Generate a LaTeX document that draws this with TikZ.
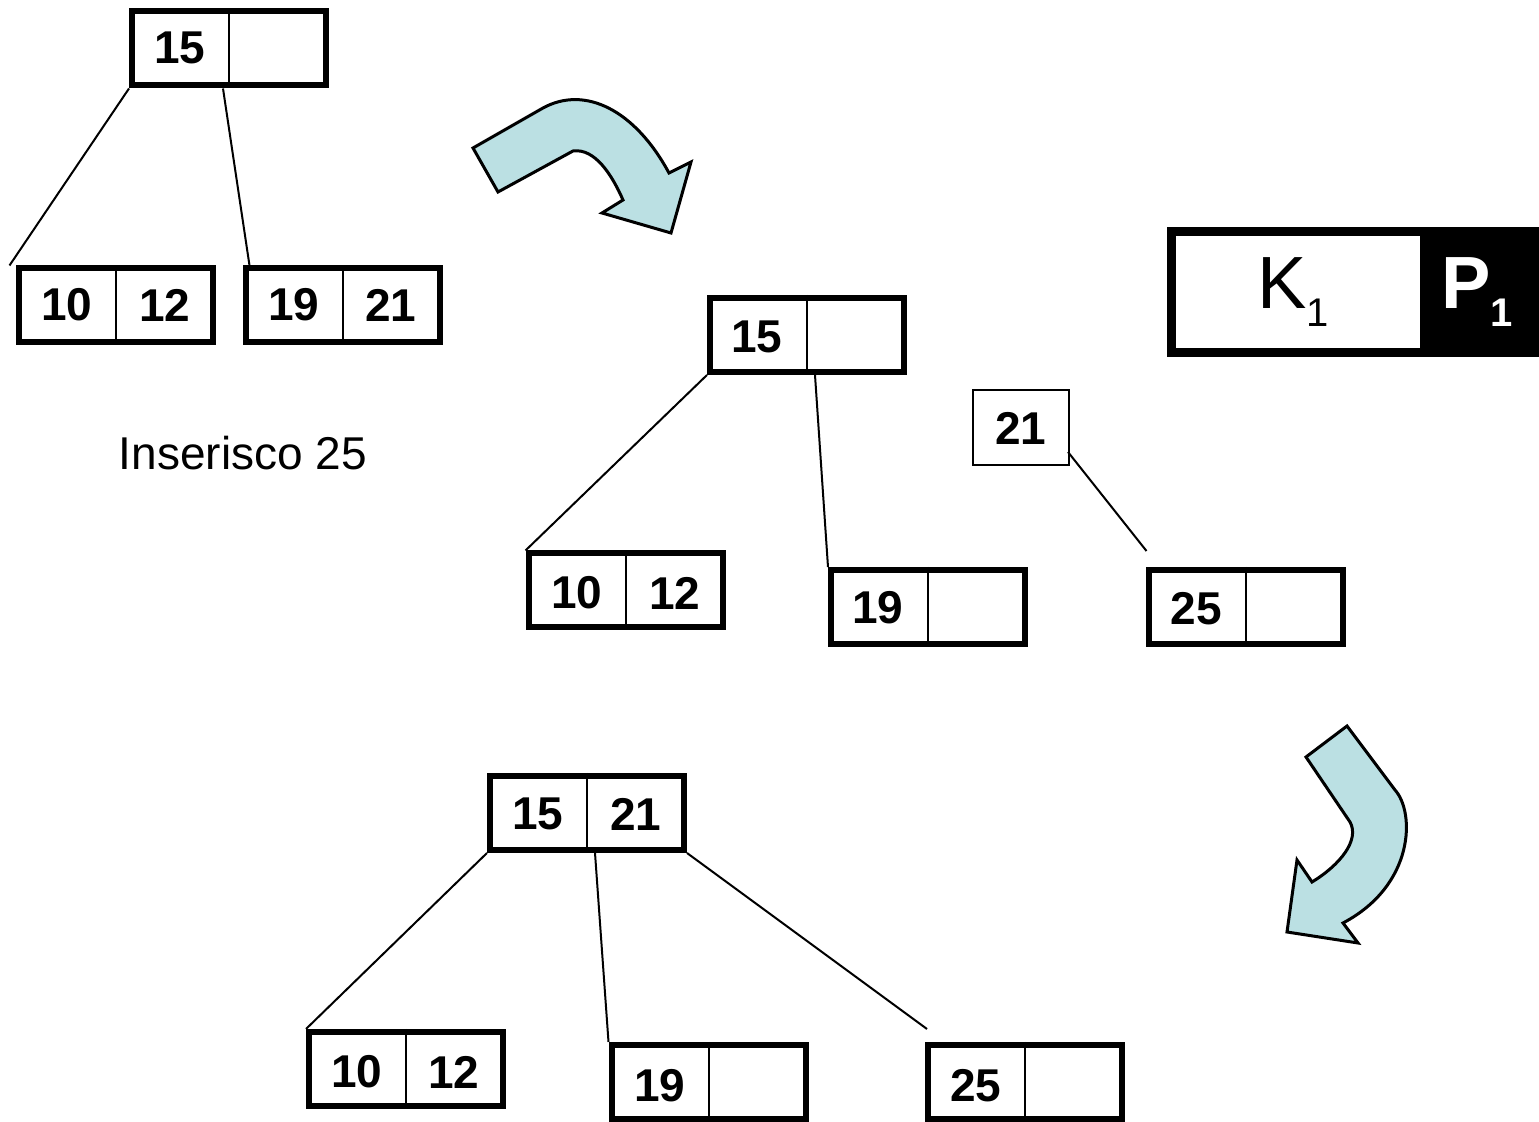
\documentclass[tikz,border=0pt]{standalone}
\usepackage{fontspec}
\setmainfont{Liberation Sans}
\usetikzlibrary{positioning, calc}
\definecolor{arrowblue}{RGB}{187,224,227}

\begin{document}
\begin{tikzpicture}[x=0.5pt, y=-0.5pt,
		keybox/.style={draw, rectangle, line width=3pt, minimum width=97pt, minimum height=37pt, inner sep=0pt},
		key/.style={font=\fontsize{23}{27}\selectfont\bfseries, inner sep=0pt},
		edge/.style={line width=1pt},
		divider/.style={line width=1pt},
		bluearrow/.style={draw, line width=1.5pt, fill=arrowblue, line join=miter}]
		\useasboundingbox (0,0) rectangle (1539,1122);
		
		% first tree: root with a full leaf
		\node (Root A) at (229,48.5) [keybox]{};
		\node (Leaf A1) at (115.5,305.5) [keybox]{};
		\node (Leaf A2) at (342.5,305.5) [keybox]{};
		\draw[divider] (Root A.north) -- (Root A.south);
		\draw[divider] (Leaf A1.north) -- (Leaf A1.south);
		\draw[divider] (Leaf A2.north) -- (Leaf A2.south);
		\node (Key A) at (180,48) [key]{15};
		\node (Key A11) at (67,305) [key]{10};
		\node (Key A12) at (165,305) [key]{12};
		\node (Key A21) at (294,305) [key]{19};
		\node (Key A22) at (391,305) [key]{21};
		\draw[edge] (Root A.south west) -- ($(Leaf A1.north west)+(-6,0)$);
		\draw[edge] ($(Root A.south)+(-6,0)$) -- ($(Leaf A2.north west)+(7,0)$);
		
		\node (Scritto) at (243,453) [font=\fontsize{23}{27}\selectfont]{Inserisco 25};
		
		% split of the leaf
		\node (Root B) at (807,335) [keybox]{};
		\node (Leaf B1) at (625.5,590.5) [keybox]{};
		\node (Leaf B2) at (928,607) [keybox]{};
		\node (Leaf B3) at (1245.5,607) [keybox]{};
		\draw[divider] (Root B.north) -- (Root B.south);
		\draw[divider] (Leaf B1.north) -- (Leaf B1.south);
		\draw[divider] (Leaf B2.north) -- (Leaf B2.south);
		\draw[divider] (Leaf B3.north) -- (Leaf B3.south);
		\node (Key B) at (757,337) [key]{15};
		\node (Key B11) at (577,593) [key]{10};
		\node (Key B12) at (675,593) [key]{12};
		\node (Key B21) at (878,608) [key]{19};
		\node (Key B31) at (1196,609) [key]{25};
		\node (Split Key) at (1021,428) [draw, rectangle, line width=1pt, minimum width=48pt, minimum height=37.5pt, key]{21};
		\draw[edge] (Root B.south west) -- (Leaf B1.north west);
		\draw[edge] ($(Root B.south)+(8,0)$) -- (Leaf B2.north west);
		\draw[edge] ($(Split Key.east)+(-2,24)$) -- ($(Leaf B3.north west)+(1,-16)$);
		
		% final tree
		\node (Root C) at (587,813) [keybox]{};
		\node (Leaf C1) at (406,1069) [keybox]{};
		\node (Leaf C2) at (708.5,1082) [keybox]{};
		\node (Leaf C3) at (1025,1082) [keybox]{};
		\draw[divider] (Root C.north) -- (Root C.south);
		\draw[divider] (Leaf C1.north) -- (Leaf C1.south);
		\draw[divider] (Leaf C2.north) -- (Leaf C2.south);
		\draw[divider] (Leaf C3.north) -- (Leaf C3.south);
		\node (Key C1) at (538,814) [key]{15};
		\node (Key C2) at (636,814) [key]{21};
		\node (Key C11) at (357,1072) [key]{10};
		\node (Key C12) at (454,1072) [key]{12};
		\node (Key C21) at (660,1086) [key]{19};
		\node (Key C31) at (976,1086) [key]{25};
		\draw[edge] (Root C.south west) -- (Leaf C1.north west);
		\draw[edge] ($(Root C.south)+(8,0)$) -- (Leaf C2.north west);
		\draw[edge] (Root C.south east) -- ($(Leaf C3.north west)+(2,-13)$);
		
		% key/pointer legend
		\node (Legend) at (1353,292) [draw, rectangle, line width=4.5pt, minimum width=181.5pt, minimum height=60.5pt]{};
		\node (Pointer) at (1479.5,292) [rectangle, fill=black, minimum width=59.5pt, minimum height=65pt]{};
		\node (K1) at (1293,292) [font=\fontsize{37}{40}\selectfont]{K\raisebox{-9pt}{\fontsize{20}{22}\selectfont 1}};
		\node (P1) at (1477,292) [text=white, font=\fontsize{37}{40}\selectfont\bfseries]{P\raisebox{-9pt}{\fontsize{20}{22}\selectfont 1}};
		
		% curved arrows between the steps
		\draw[bluearrow] (473,148) -- (543,108) .. controls (585,85) and (635,110) .. (669,173)
			-- (691,162) -- (671,233) -- (602,213) -- (623,200)
			.. controls (612,175) and (595,148) .. (573,151) -- (498,192) -- cycle;
		\draw[bluearrow] (1347,726) -- (1395,790) .. controls (1415,812) and (1415,885) .. (1343,923)
			-- (1358,943) -- (1287,932) -- (1297,860) -- (1312,882)
			.. controls (1340,865) and (1360,840) .. (1350,822) -- (1306,757) -- cycle;
\end{tikzpicture}
\end{document}
